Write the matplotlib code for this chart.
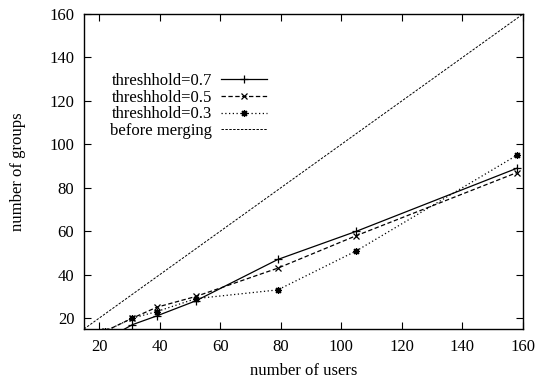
import matplotlib
matplotlib.use("Agg")
import matplotlib.pyplot as plt

# data
users = [22, 31, 39, 52, 79, 105, 158]
groups_07 = [10, 17, 21, 28, 47, 60, 89]
groups_05 = [14, 20, 25, 30, 43, 58, 87]
groups_03 = [14, 20, 23, 29, 33, 51, 95]
before_x = [15, 160]
before_y = [15, 160]

xticks = [20, 40, 60, 80, 100, 120, 140, 160]
yticks = [20, 40, 60, 80, 100, 120, 140, 160]

plt.rcParams['font.family'] = ['Liberation Serif', 'DejaVu Serif']
plt.rcParams['font.size'] = 12

fig = plt.figure(figsize=(5.39, 3.81), dpi=100)
ax = fig.add_axes([84 / 539, 52 / 381, (523 - 84) / 539, (329 - 14) / 381])

lw = 0.9
ax.plot(users, groups_07, color='black', lw=lw, ls='-', marker='+', ms=6,
        mew=0.9, label='threshhold=0.7')
ax.plot(users, groups_05, color='black', lw=lw, ls=(0, (3.5, 2)), marker='x',
        ms=4.5, mew=0.9, label='threshhold=0.5')
ax.plot(users, groups_03, color='black', lw=lw, ls=(0, (1, 2)),
        marker=(8, 2, 0), ms=5, mew=0.9, label='threshhold=0.3')
ax.plot(before_x, before_y, color='black', lw=0.7, ls=(0, (2.5, 1.5)),
        label='before merging')

ax.set_xlim(15, 160)
ax.set_ylim(15, 160)
ax.set_xticks(xticks)
ax.set_yticks(yticks)
ax.tick_params(direction='in', length=5, width=0.8, top=True, right=True,
               pad=7)
for s in ax.spines.values():
    s.set_linewidth(1.0)

ax.set_xlabel('number of users', labelpad=6)
ax.set_ylabel('number of groups', labelpad=17)

leg = ax.legend(loc='upper left', bbox_to_anchor=(0.04, 0.84), frameon=False,
                markerfirst=False, handlelength=2.75, handletextpad=0.55,
                labelspacing=0.05, borderpad=0)
for t in leg.get_texts():
    t.set_ha('right')
leg._legend_box.align = 'right'

fig.savefig('out.png', dpi=100)
